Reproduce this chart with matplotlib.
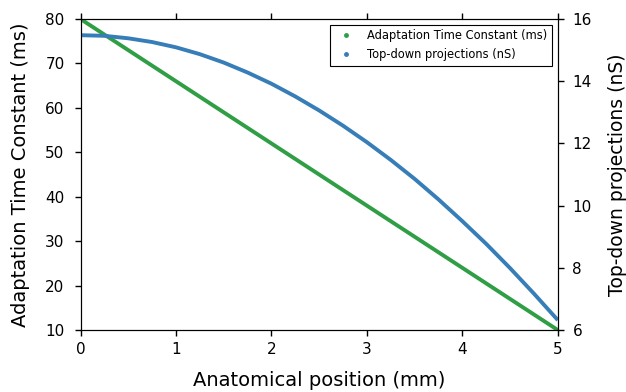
import matplotlib
matplotlib.use("Agg")
import matplotlib.pyplot as plt
from matplotlib.lines import Line2D

# --- data ---
pos_green = [0, 1, 2, 3, 4, 5]
tau_adapt = [80, 66, 52, 38, 24, 10]

pos_blue = [0, 0.25, 0.5, 0.75, 1.0, 1.25, 1.5, 1.75, 2.0, 2.25, 2.5,
            2.75, 3.0, 3.25, 3.5, 3.75, 4.0, 4.25, 4.5, 4.75, 5.0]
topdown = [15.48, 15.46, 15.38, 15.26, 15.09, 14.87, 14.60, 14.28, 13.92, 13.51, 13.06,
           12.57, 12.04, 11.47, 10.86, 10.20, 9.50, 8.77, 7.99, 7.17, 6.32]

green = "#2f9e44"
blue = "#377eb8"

plt.rcParams["font.family"] = "DejaVu Sans"

fig = plt.figure(figsize=(6.26, 3.92), dpi=100)
ax = fig.add_axes([0.1286, 0.158, 0.7625, 0.7935])
ax2 = ax.twinx()

ax.plot(pos_green, tau_adapt, "-", color=green, lw=2.8, solid_capstyle="butt")
ax2.plot(pos_blue, topdown, "-", color=blue, lw=2.8, solid_capstyle="butt",
         solid_joinstyle="round")

ax.set_xlim(0, 5)
ax.set_ylim(10, 80)
ax2.set_ylim(6, 16)
ax.set_yticks(range(10, 81, 10))
ax2.set_yticks(range(6, 17, 2))

ax.set_xlabel("Anatomical position (mm)", fontsize=14, labelpad=10)
ax.set_ylabel("Adaptation Time Constant (ms)", fontsize=14, labelpad=11)
ax2.set_ylabel("Top-down projections (nS)", fontsize=13.5, labelpad=12)

ax.tick_params(axis="x", direction="out", length=4.5, width=1, top=True, pad=4, labelsize=11)
ax.tick_params(axis="y", direction="out", length=4.5, width=1, right=False, pad=7, labelsize=11)
ax2.tick_params(direction="out", length=4.5, width=1, pad=6, labelsize=11)

handles = [
    Line2D([], [], ls="none", marker=".", color=green, markersize=5),
    Line2D([], [], ls="none", marker=".", color=blue, markersize=5),
]
leg = ax2.legend(handles, ["Adaptation Time Constant (ms)", "Top-down projections (nS)"],
                 loc="upper right", fontsize=8.3, numpoints=1, fancybox=False,
                 edgecolor="black", framealpha=1, borderaxespad=0.5)
leg.get_frame().set_linewidth(0.8)

fig.savefig("out.png", dpi=100)
